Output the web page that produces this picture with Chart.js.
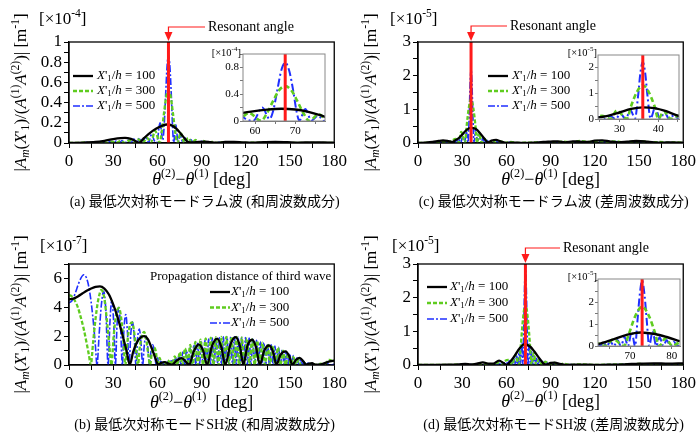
<!DOCTYPE html>
<html>
<head>
<meta charset="utf-8">
<script src="https://cdn.jsdelivr.net/npm/chart.js@4.4.1/dist/chart.umd.min.js"></script>
<style>
body{margin:0;background:#fff;}
#fig{position:relative;width:699px;height:433px;overflow:hidden;background:#fff;}
#fig canvas{position:absolute;}
</style>
</head>
<body>
<div id="fig">
<canvas id="pa" style="left:0;top:0" width="350" height="215"></canvas>
<canvas id="pc" style="left:350px;top:0" width="349" height="215"></canvas>
<canvas id="pb" style="left:0;top:215px" width="350" height="218"></canvas>
<canvas id="pd" style="left:350px;top:215px" width="349" height="218"></canvas>
<canvas id="ia" style="left:200px;top:40px" width="135" height="100"></canvas>
<canvas id="ic" style="left:555px;top:40px" width="130" height="100"></canvas>
<canvas id="id" style="left:555px;top:264px" width="130" height="100"></canvas>
</div>
<script>
// resonant angles [deg]
const RES_A = 67.5, RES_C = 36, RES_D = 72.9;

// (a) Lamb wave, sum frequency  [x1e-4]
const lambSum100 = [[0,0],[10,0.003],[18,0.01],[24,0.022],[30,0.038],[35,0.048],[38,0.05],[42,0.04],[45,0.02],[47.5,0.003],[51,0.05],[55,0.1],[59,0.14],[63,0.17],[66.5,0.183],[70,0.172],[73,0.14],[76,0.09],[78.5,0.045],[81,0.008],[84,0.006],[88,0.012],[92,0.013],[96,0.008],[100,0.003],[106,0.01],[112,0.012],[118,0.007],[124,0.003],[132,0.008],[140,0.011],[148,0.008],[156,0.004],[164,0.006],[172,0.005],[180,0.003]];
const lambSum300 = [[0,0],[8,0.002],[11,0.006],[14,0.001],[17,0.008],[20,0.001],[23,0.01],[26,0.001],[29,0.013],[32,0.002],[35,0.018],[38,0.002],[41,0.025],[44,0.003],[47,0.035],[50,0.004],[53,0.05],[55.5,0.005],[58.5,0.12],[61.5,0.002],[63,0.12],[64.5,0.3],[66,0.46],[67.5,0.52],[69,0.46],[70.5,0.3],[72,0.12],[73.5,0.002],[75.8,0.1],[78.3,0.004],[80.8,0.05],[83.3,0.003],[86,0.03],[88.5,0.002],[91,0.02],[94,0.002],[97,0.012],[100,0.001],[104,0.008],[108,0.001],[113,0.005],[120,0.002],[130,0.003],[180,0]];
const lambSum500 = [[0,0],[10,0.002],[12,0.006],[14,0],[16,0.008],[18,0],[20,0.01],[22,0],[24,0.012],[26,0],[28,0.015],[30,0],[32,0.02],[34,0],[36,0.025],[38,0],[40,0.03],[42,0],[44,0.04],[46,0],[48,0.05],[50,0],[52,0.065],[54,0],[56,0.09],[58,0.02],[59.5,0],[61.8,0.2],[63.6,0.03],[64.5,0.15],[65.5,0.45],[66.5,0.75],[67.5,0.87],[68.5,0.75],[69.5,0.45],[70.3,0.15],[71,0.005],[72.5,0.18],[74,0.005],[75.7,0.08],[77.2,0],[79,0.05],[80.8,0],[82.6,0.035],[84.4,0],[86.2,0.025],[88,0],[90,0.018],[92,0],[95,0.012],[98,0],[102,0.008],[106,0],[112,0.005],[120,0],[135,0.003],[150,0],[180,0]];

// (c) Lamb wave, difference frequency  [x1e-5]
const lambDif100 = [[0,0],[5,0.01],[10,0.03],[14,0.06],[17,0.075],[20,0.06],[23,0.03],[25,0.07],[27,0.12],[30,0.25],[33,0.39],[36,0.45],[39,0.42],[42,0.3],[45,0.13],[47.5,0.02],[50,0.07],[53,0.09],[56,0.05],[60,0.005],[65,0.01],[70,0.005],[78,0.01],[85,0.03],[90,0.04],[95,0.05],[100,0.02],[105,0.05],[110,0.04],[115,0.03],[120,0.07],[125,0.08],[130,0.05],[136,0.02],[142,0.04],[148,0.06],[154,0.05],[160,0.02],[166,0.01],[172,0.02],[180,0.01]];
const lambDif300 = [[0,0],[8,0.01],[11,0.02],[14,0.005],[17,0.04],[20,0.005],[23,0.07],[25.5,0.12],[27.7,0.005],[29.3,0.33],[31.9,0.005],[33,0.5],[34.5,1.05],[36,1.3],[37.5,1.05],[39,0.5],[40,0.005],[41.4,0.3],[43.2,0.005],[45.2,0.12],[47.5,0.005],[50.5,0.07],[53,0.005],[56,0.05],[59,0.005],[63,0.03],[67,0.003],[75,0.01],[85,0.02],[92,0.01],[98,0.04],[104,0.02],[110,0.06],[116,0.03],[122,0.06],[128,0.03],[134,0.05],[140,0.02],[146,0.04],[152,0.05],[158,0.02],[164,0.03],[170,0.01],[176,0.02],[180,0]];
const lambDif500 = [[0,0],[8,0.005],[10,0.015],[12,0],[14,0.02],[16,0],[18,0.035],[20,0],[21.7,0.05],[23.3,0],[24.8,0.08],[26.2,0],[27.6,0.12],[29,0],[30.3,0.2],[31.6,0],[32.8,0.35],[34,0.02],[34.8,0.9],[35.4,1.8],[36,2.2],[36.6,1.8],[37.2,0.9],[38,0.02],[39.2,0.45],[40.4,0],[41.6,0.25],[42.8,0],[44,0.15],[45.3,0],[46.7,0.1],[48.2,0],[49.7,0.07],[51.3,0],[53,0.05],[55,0],[57,0.03],[59,0],[62,0.02],[66,0],[75,0.005],[85,0.015],[92,0.02],[98,0.03],[104,0.02],[110,0.05],[116,0.03],[122,0.05],[128,0.03],[134,0.04],[140,0.02],[146,0.04],[152,0.04],[158,0.02],[164,0.02],[170,0.01],[180,0]];

// (b) SH wave, sum frequency  [x1e-7]
const shSum100 = [[0,4.55],[3,4.6],[6,4.75],[9,4.95],[12,5.15],[15,5.3],[18,5.42],[21,5.45],[24,5.3],[27,4.9],[30,4.2],[33,3.3],[36,2.2],[39,1.0],[41.3,0.02],[43.5,0.9],[46,1.55],[48.5,1.9],[51,2.0],[53.5,1.8],[56,1.2],[58.5,0.5],[60.5,0.02],[62.5,0.15],[65,0.2],[67.5,0.1],[70,0.02],[73,0.3],[76.5,0.47],[79.5,0.2],[81.5,0.02],[84.5,0.9],[88,1.43],[91,1.0],[93.7,0.02],[97,1.3],[100.5,1.83],[103.5,1.2],[106,0.02],[109.5,1.4],[113,1.93],[116,1.3],[118.3,0.02],[121,1.3],[124.3,1.75],[127,1.2],[129.5,0.02],[132.5,1.0],[135.8,1.35],[138.5,0.9],[140.8,0.02],[143.5,0.7],[147,0.95],[149.5,0.6],[151.5,0.02],[154,0.35],[156.5,0.5],[159,0.25],[161,0.02],[163,0.1],[165,0.12],[167,0.03],[170,0.02],[174,0.15],[177,0.25],[180,0.3]];
const shSum300 = [[0,4.85],[2,4.75],[4,4.45],[6,4.0],[8,3.3],[10,2.5],[12,1.5],[13.5,0.7],[14.8,0],[16.3,1.5],[18,3.2],[20,4.6],[22,5.2],[24,4.6],[26,2.8],[27.5,1.2],[28.8,0],[30.3,2.0],[32,3.5],[33.8,3.95],[35.5,3.2],[37,1.6],[38.2,0],[39.6,1.6],[41.2,2.7],[42.8,2.95],[44.3,2.2],[45.8,0.8],[46.8,0],[48,1.2],[49.5,2.0],[51,2.3],[52.5,1.7],[54,0.6],[55,0],[56.2,0.8],[57.6,1.2],[59,0.9],[60,0],[61.5,0.5],[63,0],[64.75,0.2],[66.5,0],[68.25,0.35],[70,0],[71.75,0.6],[73.5,0],[75.25,0.9],[77,0],[78.75,1.15],[80.5,0],[82.25,1.4],[84,0],[85.75,1.6],[87.5,0],[89.25,1.75],[91,0],[92.75,1.85],[94.5,0],[96.25,1.9],[98,0],[99.75,1.93],[101.5,0],[103.25,1.95],[105,0],[106.75,1.95],[108.5,0],[110.25,1.95],[112,0],[113.75,1.94],[115.5,0],[117.25,1.9],[119,0],[120.75,1.85],[122.5,0],[124.25,1.78],[126,0],[127.75,1.68],[129.5,0],[131.25,1.55],[133,0],[134.75,1.45],[136.5,0],[138.25,1.35],[140,0],[141.75,1.2],[143.5,0],[145.25,1.0],[147,0],[148.75,0.8],[150.5,0],[152.25,0.55],[154,0],[155.75,0.35],[157.5,0],[159.25,0.2],[161,0],[162.75,0.08],[166,0.03],[168,0],[171,0.1],[173,0.02],[176.5,0.35],[180,0.2]];
const shSum500 = [[0,4.3],[2,4.45],[4,4.9],[6,5.5],[8,6.0],[10,6.25],[12,6.0],[14,5.1],[16,3.5],[17.8,1.5],[19,0],[20.5,2.2],[22,4.2],[23.5,5.1],[25,3.8],[26.5,0],[27.8,3.0],[29,4.5],[30.3,3.0],[31.5,0],[32.6,2.8],[33.8,4.0],[35,2.6],[36.2,0],[37.3,2.5],[38.5,3.5],[39.7,2.2],[40.8,0],[41.9,2.1],[43.1,3.0],[44.3,1.9],[45.4,0],[46.5,1.8],[47.7,2.5],[48.9,1.5],[50,0],[51.1,1.4],[52.3,2.0],[53.5,1.2],[54.6,0],[55.7,1.0],[56.9,1.4],[58.1,0.8],[59.2,0],[60.2,0.5],[61,0],[62.25,0.25],[63.5,0],[64.75,0.15],[66,0],[67.25,0.25],[68.5,0],[69.75,0.4],[71,0],[72.25,0.55],[73.5,0],[74.75,0.75],[76,0],[77.25,0.9],[78.5,0],[79.75,1.05],[81,0],[82.25,1.2],[83.5,0],[84.75,1.4],[86,0],[87.25,1.5],[88.5,0],[89.75,1.62],[91,0],[92.25,1.72],[93.5,0],[94.75,1.8],[96,0],[97.25,1.86],[98.5,0],[99.75,1.9],[101,0],[102.25,1.93],[103.5,0],[104.75,1.95],[106,0],[107.25,1.95],[108.5,0],[109.75,1.95],[111,0],[112.25,1.95],[113.5,0],[114.75,1.94],[116,0],[117.25,1.92],[118.5,0],[119.75,1.9],[121,0],[122.25,1.86],[123.5,0],[124.75,1.8],[126,0],[127.25,1.72],[128.5,0],[129.75,1.63],[131,0],[132.25,1.55],[133.5,0],[134.75,1.48],[136,0],[137.25,1.4],[138.5,0],[139.75,1.32],[141,0],[142.25,1.22],[143.5,0],[144.75,1.1],[146,0],[147.25,0.95],[148.5,0],[149.75,0.8],[151,0],[152.25,0.65],[153.5,0],[154.75,0.5],[156,0],[157.25,0.38],[158.5,0],[159.75,0.25],[161,0],[162.25,0.14],[163.5,0],[165,0.06],[167,0],[170,0.05],[173,0],[176,0.1],[178,0],[180,0.05]];

// (d) SH wave, difference frequency  [x1e-5]
const shDif100 = [[0,0],[10,0.005],[20,0.01],[28,0.02],[32,0.03],[36,0.015],[40,0.04],[44,0.08],[48,0.04],[51,0.04],[55,0.13],[58,0.06],[60,0.005],[63,0.12],[66,0.3],[69,0.5],[72.5,0.62],[76,0.55],[79,0.4],[82,0.22],[85,0.05],[87,0.01],[90,0.06],[93,0.07],[96,0.03],[100,0.005],[110,0.01],[120,0.005],[130,0.01],[140,0.02],[150,0.04],[160,0.05],[170,0.04],[180,0.05]];
const shDif300 = [[0,0],[20,0.005],[30,0.01],[35,0.002],[40,0.02],[44,0.003],[48,0.04],[51,0.005],[54,0.07],[56.5,0.005],[59,0.12],[61.5,0.15],[64,0.005],[66,0.3],[68.5,0.005],[69.8,0.6],[71.2,1.35],[72.9,1.8],[74.6,1.35],[76,0.6],[77,0.005],[78.5,0.35],[80.2,0.005],[82,0.16],[84,0.005],[86.5,0.1],[89,0.005],[92,0.07],[95,0.005],[99,0.04],[103,0.005],[110,0.02],[120,0.005],[130,0.01],[140,0.02],[150,0.03],[160,0.02],[170,0.02],[180,0.01]];
const shDif500 = [[0,0],[20,0.005],[30,0.01],[33,0],[36,0.015],[39,0],[42,0.02],[45,0],[47,0.025],[49.4,0],[50.8,0.03],[52.5,0],[53.35,0.045],[54.2,0],[55.05,0.05],[55.9,0],[56.75,0.06],[57.6,0],[58.45,0.07],[59.3,0],[60.15,0.09],[61,0],[61.9,0.13],[62.7,0],[63.6,0.16],[64.4,0],[65.3,0.2],[66.1,0],[67,0.27],[67.8,0],[68.7,0.4],[69.5,0],[70.4,0.65],[71.2,0],[71.8,1.2],[72.3,2.3],[72.9,3.0],[73.5,2.3],[74,1.2],[74.6,0],[75.4,0.65],[76.3,0],[77.1,0.4],[78,0],[78.8,0.27],[79.7,0],[80.5,0.2],[81.4,0],[82.2,0.16],[83.1,0],[83.9,0.13],[84.8,0],[85.7,0.1],[86.6,0],[87.5,0.08],[88.4,0],[89.5,0.06],[90.6,0],[92,0.05],[93.5,0],[96,0.03],[98.5,0],[105,0.015],[110,0],[120,0.005],[130,0.01],[140,0.02],[150,0.03],[160,0.02],[170,0.02],[180,0.01]];

// ticks
const mainXTicks = [0,15,30,45,60,75,90,105,120,135,150,165,180];
const mainXLabels = [0,30,60,90,120,150,180];
const aYTicks = [0,0.1,0.2,0.3,0.4,0.5,0.6,0.7,0.8,0.9,1];
const aYLabels = [0,0.2,0.4,0.6,0.8,1];
const cdYTicks = [0,0.5,1,1.5,2,2.5,3];
const cdYLabels = [0,1,2,3];
const bYTicks = [0,1,2,3,4,5,6,7];
const bYLabels = [0,2,4,6];
const iaXTicks = [60,65,70,75], iaXLabels = [60,70];
const iaYTicks = [0,0.2,0.4,0.6,0.8,1], iaYLabels = [0,0.4,0.8];
const icXTicks = [25,30,35,40,45], icXLabels = [30,40];
const icYTicks = [0,0.5,1,1.5,2], icYLabels = [0,1,2];
const idXTicks = [65,70,75,80], idXLabels = [70,80];
const idYTicks = [0,0.5,1,1.5,2,2.5,3], idYLabels = [0,1,2];

const FONT = "'Liberation Serif','Noto Sans CJK JP',serif";
const RED = '#ff1a1a', GREEN = '#5fcc1f', BLUE = '#1f2fff';

function drawRich(ctx, runs, x, y, size, align){
  let w = 0;
  const parts = runs.map(r => {
    const t = r[0], f = r[1] || '';
    const small = f.includes('^') || f.includes('_');
    const font = (f.includes('i') ? 'italic ' : '') + (small ? size*0.68 : size) + 'px ' + FONT;
    ctx.font = font;
    const pw = ctx.measureText(t).width;
    const dy = f.includes('^') ? -size*0.36 : (f.includes('_') ? size*0.24 : 0);
    w += pw;
    return {t, font, pw, dy};
  });
  let cx = align === 'center' ? x - w/2 : (align === 'right' ? x - w : x);
  ctx.textAlign = 'left'; ctx.textBaseline = 'middle';
  parts.forEach(p => { ctx.font = p.font; ctx.fillText(p.t, cx, y + p.dy); cx += p.pw; });
}

const yTitleRuns = [['|'],['A','i'],['m','i_'],['('],['X','i'],["'"],['1','_'],[')/('],['A','i'],['(1)','^'],['A','i'],['(2)','^'],[')|'],[' [m'],['-1','^'],[']']];
const xTitleRuns = gap => [['θ','i'],['(2)','^'],['−'],['θ','i'],['(1)','^'],[gap + '[deg]']];
const legendRuns = v => [['X','i'],["'"],['1','_'],['/'],['h','i'],[' = ' + v]];

const decos = {
  pa: {frame:'#000', fw:1.3, exp:'-4', scaleAt:[39,20,17,'left'], xTitle:{dy:37, gap:' '}, yTitle:true,
       caption:{t:'(a) 最低次対称モードラム波 (和周波数成分)', dx:3, dy:59},
       legend:{x:73, y:76, dy:15, tx:24}, res:{angle:RES_A, tx:208, y:27}},
  pc: {frame:'#000', fw:1.3, exp:'-5', scaleAt:[40,20,17,'left'], xTitle:{dy:37, gap:' '}, yTitle:true,
       caption:{t:'(c) 最低次対称モードラム波 (差周波数成分)', dx:3, dy:59},
       legend:{x:138, y:76, dy:15, tx:24}, res:{angle:RES_C, tx:160, y:26}},
  pb: {frame:'#000', fw:1.3, exp:'-7', scaleAt:[40,32,17,'left'], xTitle:{dy:38, gap:'  '}, yTitle:true,
       caption:{t:'(b) 最低次対称モードSH波 (和周波数成分)', dx:3, dy:60},
       legend:{x:210, y:77, dy:15.5, tx:21, head:'Propagation distance of third wave', hx:150, hy:62}},
  pd: {frame:'#000', fw:1.3, exp:'-5', scaleAt:[42,32,17,'left'], xTitle:{dy:37, gap:' '}, yTitle:true,
       caption:{t:'(d) 最低次対称モードSH波 (差周波数成分)', dx:3, dy:60},
       legend:{x:77, y:72, dy:16, tx:23}, res:{angle:RES_D, tx:213, y:33}},
  ia: {frame:'#888', fw:1, inset:true, exp:'-4', scaleAt:[41,13,10.5,'right']},
  ic: {frame:'#888', fw:1, inset:true, exp:'-5', scaleAt:[42,13,10.5,'right']},
  id: {frame:'#888', fw:1, inset:true, exp:'-5', scaleAt:[42,13,10.5,'right']}
};

const decoPlugin = {
  id: 'deco',
  beforeDatasetsDraw(chart){
    const d = decos[chart.canvas.id];
    if (!d.inset) return;
    const a = chart.chartArea, ctx = chart.ctx;
    ctx.save(); ctx.fillStyle = '#fff';
    ctx.fillRect(a.left, a.top, a.right - a.left, a.bottom - a.top);
    ctx.restore();
  },
  afterDraw(chart){
    const d = decos[chart.canvas.id];
    const a = chart.chartArea, ctx = chart.ctx;
    ctx.save();
    ctx.strokeStyle = d.frame; ctx.lineWidth = d.fw;
    ctx.strokeRect(a.left, a.top, a.right - a.left, a.bottom - a.top);
    ctx.fillStyle = '#000';
    const s = d.scaleAt;
    drawRich(ctx, [['[×10'],[d.exp,'^'],[']']], s[0], s[1], s[2], s[3]);
    const cx = (a.left + a.right) / 2;
    if (d.xTitle) drawRich(ctx, xTitleRuns(d.xTitle.gap), cx, a.bottom + d.xTitle.dy, 18, 'center');
    if (d.yTitle) {
      ctx.save(); ctx.translate(22, (a.top + a.bottom) / 2); ctx.rotate(-Math.PI / 2);
      drawRich(ctx, yTitleRuns, 0, 0, 17, 'center');
      ctx.restore();
    }
    if (d.caption) drawRich(ctx, [[d.caption.t]], cx + d.caption.dx, a.bottom + d.caption.dy, 14, 'center');
    if (d.legend) {
      const L = d.legend;
      if (L.head) drawRich(ctx, [[L.head]], L.hx, L.hy, 13, 'left');
      chart.data.datasets.filter(ds => ds.label).forEach((ds, i) => {
        const y = L.y + i * L.dy;
        ctx.strokeStyle = ds.borderColor; ctx.lineWidth = ds.borderWidth;
        ctx.setLineDash(ds.borderDash || []);
        ctx.beginPath(); ctx.moveTo(L.x, y); ctx.lineTo(L.x + 20, y); ctx.stroke();
        ctx.setLineDash([]);
        drawRich(ctx, legendRuns(ds.label), L.x + L.tx, y, 13, 'left');
      });
    }
    if (d.res) {
      const px = chart.scales.x.getPixelForValue(d.res.angle);
      ctx.strokeStyle = RED; ctx.lineWidth = 1.2;
      ctx.beginPath(); ctx.moveTo(d.res.tx - 3, d.res.y); ctx.lineTo(px, d.res.y); ctx.lineTo(px, a.top - 8); ctx.stroke();
      ctx.fillStyle = RED;
      ctx.beginPath(); ctx.moveTo(px - 4, a.top - 10); ctx.lineTo(px + 4, a.top - 10); ctx.lineTo(px, a.top - 1); ctx.closePath(); ctx.fill();
      ctx.fillStyle = '#000';
      drawRich(ctx, [['Resonant angle']], d.res.tx, d.res.y, 14, 'left');
    }
    ctx.restore();
  }
};

const xy = arr => arr.map(p => ({x: p[0], y: p[1]}));

function makeSets(k, g, b, res, ymax, inset){
  const sets = [];
  if (res !== null) sets.push({data: xy([[res,0],[res,ymax]]), borderColor: RED, borderWidth: 3, tension: 0, cubicInterpolationMode: 'default'});
  sets.push({label:'100', data: xy(k), borderColor:'#000', borderWidth: inset ? 2.4 : 2.3});
  sets.push({label:'300', data: xy(g), borderColor: GREEN, borderWidth: inset ? 2.6 : 2.3, borderDash: inset ? [5,3] : [4,2]});
  sets.push({label:'500', data: xy(b), borderColor: BLUE, borderWidth: inset ? 2 : 1.6, borderDash: inset ? [8,3,2,3] : [7,2,2,2]});
  return sets;
}

function axis(min, max, ticks, labels, inset, isX, fitSize){
  const col = inset ? '#777' : '#000';
  return {
    type: 'linear', min, max,
    afterBuildTicks: s => { s.ticks = ticks.map(v => ({value: v})); },
    afterFit: s => { if (isX) s.height = fitSize; else s.width = fitSize; },
    ticks: {
      autoSkip: false, maxRotation: 0, color: '#000',
      padding: inset ? 1 : (isX ? 3 : 2),
      font: {family: FONT, size: inset ? 11 : 17},
      callback: v => labels.includes(v) ? String(v) : ''
    },
    grid: {drawOnChartArea: false, drawTicks: true, tickLength: inset ? 3 : 5, color: col, lineWidth: 1},
    border: {display: true, color: col, width: inset ? 1 : 1.3}
  };
}

function makeChart(id, sets, xr, yr, area){
  const cv = document.getElementById(id);
  const inset = !!decos[id].inset;
  return new Chart(cv, {
    type: 'line',
    data: {datasets: sets},
    options: {
      responsive: false, animation: false, devicePixelRatio: 1,
      layout: {padding: {left: 0, top: area[1], right: cv.width - area[2], bottom: 0}},
      plugins: {legend: {display: false}, tooltip: {enabled: false}},
      elements: {point: {radius: 0}, line: {cubicInterpolationMode: 'monotone'}},
      scales: {
        x: axis(xr[0], xr[1], xr[2], xr[3], inset, true, cv.height - area[3]),
        y: axis(yr[0], yr[1], yr[2], yr[3], inset, false, area[0])
      }
    },
    plugins: [decoPlugin]
  });
}

makeChart('pa', makeSets(lambSum100, lambSum300, lambSum500, RES_A, 1, false), [0,180,mainXTicks,mainXLabels], [0,1,aYTicks,aYLabels], [69,42,335,143]);
makeChart('pc', makeSets(lambDif100, lambDif300, lambDif500, RES_C, 3, false), [0,180,mainXTicks,mainXLabels], [0,3,cdYTicks,cdYLabels], [68,42,334,143]);
makeChart('pb', makeSets(shSum100, shSum300, shSum500, null, 7, false), [0,180,mainXTicks,mainXLabels], [0,7,bYTicks,bYLabels], [69,49,335,150]);
makeChart('pd', makeSets(shDif100, shDif300, shDif500, RES_D, 3, false), [0,180,mainXTicks,mainXLabels], [0,3,cdYTicks,cdYLabels], [68,49,334,150]);
makeChart('ia', makeSets(lambSum100, lambSum300, lambSum500, RES_A, 1, true), [57,77.4,iaXTicks,iaXLabels], [0,1,iaYTicks,iaYLabels], [43,14,125,81]);
makeChart('ic', makeSets(lambDif100, lambDif300, lambDif500, RES_C, 2.47, true), [24.5,45.3,icXTicks,icXLabels], [0,2.47,icYTicks,icYLabels], [43,15,124,79]);
makeChart('id', makeSets(shDif100, shDif300, shDif500, RES_D, 3.07, true), [62.3,82,idXTicks,idXLabels], [0,3.07,idYTicks,idYLabels], [43,15,125,82]);
</script>
</body>
</html>
